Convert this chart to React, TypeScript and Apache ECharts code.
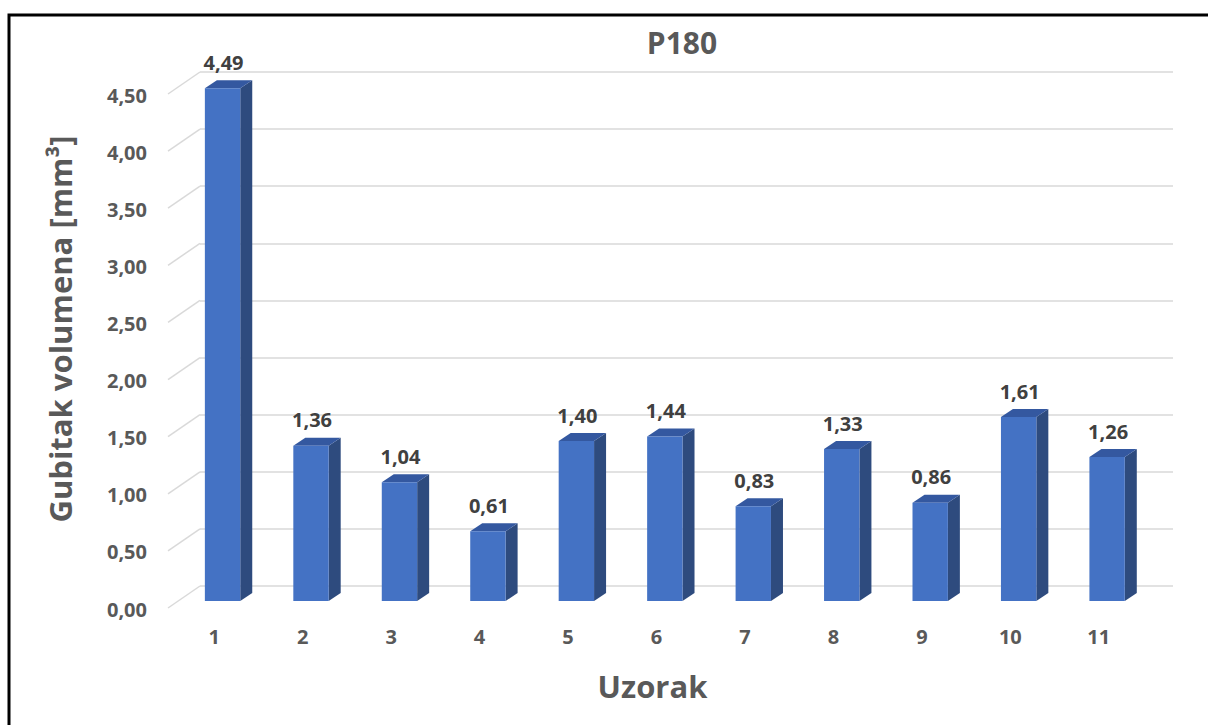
import React, { useEffect, useRef } from "react";
import * as echarts from "echarts";

const categories = ["1", "2", "3", "4", "5", "6", "7", "8", "9", "10", "11"];
const values = [4.49, 1.36, 1.04, 0.61, 1.4, 1.44, 0.83, 1.33, 0.86, 1.61, 1.26];
const ticks = [0, 0.5, 1, 1.5, 2, 2.5, 3, 3.5, 4, 4.5];

const FONT = '"Open Sans", "Noto Sans", sans-serif';
const fmt = (v: number) => v.toFixed(2).replace(".", ",");

export default function App() {
  const ref = useRef<HTMLDivElement>(null);
  useEffect(() => {
    if (!ref.current) return;
    const chart = echarts.init(ref.current, null, { renderer: "svg" });
    const DX = 12, DY = -8; // bar depth
    const FY = 15; // front plane offset
    chart.setOption({
      animation: false,
      backgroundColor: "#ffffff",
      title: {
        text: "P180",
        left: 677,
        top: 22,
        textAlign: "center",
        textStyle: { fontFamily: FONT, fontWeight: "bold", fontSize: 30, color: "#595959" },
      },
      graphic: [
        {
          type: "rect",
          shape: { x: 9, y: 15, width: 1400, height: 900 },
          style: { fill: "none", stroke: "#000000", lineWidth: 3 },
          silent: true,
        },
      ],
      grid: { left: 200, right: 35, top: 72, bottom: 139 },
      xAxis: {
        type: "category",
        data: categories,
        axisLine: { show: false },
        axisTick: { show: false },
        axisLabel: {
          margin: 40,
          fontFamily: FONT,
          fontWeight: "bold",
          fontSize: 20,
          color: "#595959",
          padding: [0, 60, 0, 0],
        },
        name: "Uzorak",
        nameLocation: "middle",
        nameGap: 84,
        nameTextStyle: {
          fontFamily: FONT,
          fontWeight: "bold",
          fontSize: 31,
          color: "#595959",
          padding: [0, 68, 0, 0],
        },
      },
      yAxis: {
        type: "value",
        min: 0,
        max: 4.5,
        interval: 0.5,
        axisLine: { show: false },
        axisTick: { show: false },
        splitLine: { lineStyle: { color: "#d9d9d9", width: 1.5 } },
        axisLabel: { show: false },
        name: "Gubitak volumena [mm³]",
        nameLocation: "middle",
        nameGap: 125,
        nameRotate: 90,
        nameTextStyle: { fontFamily: FONT, fontWeight: "bold", fontSize: 31, color: "#595959" },
      },
      series: [
        {
          type: "custom",
          silent: true,
          clip: false,
          data: ticks.map((t) => [0, t]),
          renderItem: (params: any, api: any) => {
            const t = api.value(1);
            const p = api.coord([0, t]);
            const x0 = params.coordSys.x;
            return {
              type: "group",
              children: [
                {
                  type: "line",
                  shape: { x1: x0 - 32, y1: p[1] + 22, x2: x0, y2: p[1] },
                  style: { stroke: "#d9d9d9", lineWidth: 1.5 },
                },
                {
                  type: "text",
                  style: {
                    text: fmt(t),
                    x: x0 - 53,
                    y: p[1] + 23,
                    align: "right",
                    verticalAlign: "middle",
                    font: `bold 20px ${FONT}`,
                    fill: "#595959",
                  },
                },
              ],
            };
          },
        },
        {
          type: "custom",
          clip: false,
          data: values.map((v, i) => [i, v]),
          renderItem: (params: any, api: any) => {
            const i = api.value(0);
            const v = api.value(1);
            const p = api.coord([i, v]);
            const p0 = api.coord([i, 0]);
            const bw = api.size([1, 0])[0];
            const w = bw * 0.4;
            const cx = p[0] - bw * 0.245;
            const xl = cx - w / 2;
            const xr = cx + w / 2;
            const yt = p[1] + FY;
            const yb = p0[1] + FY;
            return {
              type: "group",
              children: [
                {
                  type: "polygon",
                  shape: { points: [[xr, yt], [xr + DX, yt + DY], [xr + DX, yb + DY], [xr, yb]] },
                  style: { fill: "#2E4B7E" },
                },
                {
                  type: "polygon",
                  shape: { points: [[xl, yt], [xl + DX, yt + DY], [xr + DX, yt + DY], [xr, yt]] },
                  style: { fill: "#3458A0" },
                },
                {
                  type: "rect",
                  shape: { x: xl, y: yt, width: w, height: yb - yt },
                  style: { fill: "#4472C4" },
                },
                {
                  type: "text",
                  style: {
                    text: fmt(v),
                    x: cx + 1,
                    y: yt + DY - 18,
                    align: "center",
                    verticalAlign: "middle",
                    font: `bold 20px ${FONT}`,
                    fill: "#404040",
                  },
                },
              ],
            };
          },
        },
      ],
    });
    return () => chart.dispose();
  }, []);
  return (
    <div
      ref={ref}
      style={{ position: "fixed", left: 0, top: 0, width: 1208, height: 725 }}
    />
  );
}
